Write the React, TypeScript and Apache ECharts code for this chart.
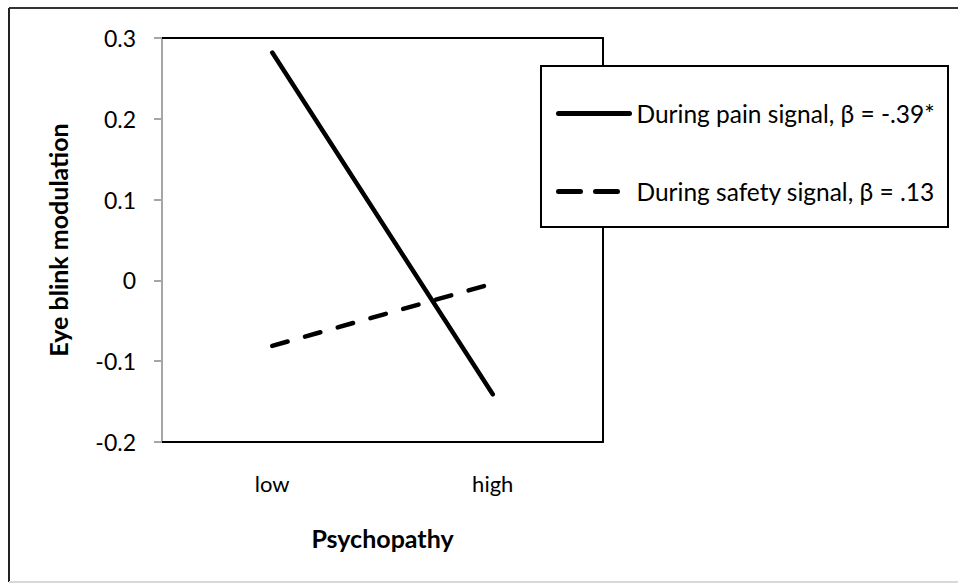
import React, { useEffect, useRef } from "react";
import * as echarts from "echarts";

const categories = ["low", "high"];
const painValues = [0.282, -0.141];
const safetyValues = [-0.081, -0.004];
const seriesNames = ["During pain signal, β = -.39*", "During safety signal, β = .13"];
const yTicks = { min: -0.2, max: 0.3, interval: 0.1 };

const FONT = "Lato";

export default function App() {
  const ref = useRef<HTMLDivElement>(null);
  useEffect(() => {
    if (!ref.current) return;
    const chart = echarts.init(ref.current, undefined, { renderer: "svg" });
    chart.setOption({
      animation: false,
      backgroundColor: "#ffffff",
      textStyle: { fontFamily: FONT, color: "#000" },
      grid: { left: 162, right: 355, top: 38, bottom: 142 },
      graphic: [
        { type: "line", shape: { x1: 9, y1: 8, x2: 958, y2: 8 }, style: { stroke: "#333", lineWidth: 2 } },
        { type: "line", shape: { x1: 9, y1: 8, x2: 9, y2: 582 }, style: { stroke: "#222", lineWidth: 2 } },
        { type: "line", shape: { x1: 9, y1: 582, x2: 958, y2: 582 }, style: { stroke: "#d8d8d8", lineWidth: 2 } },
        {
          type: "rect",
          shape: { x: 541, y: 66, width: 407, height: 161 },
          style: { fill: "#fff", stroke: "#000", lineWidth: 2 },
          z: 10,
        },
      ],
      legend: {
        orient: "vertical",
        left: 541,
        top: 66,
        padding: [35, 10, 25, 15],
        itemWidth: 71,
        itemHeight: 24,
        itemGap: 53,
        z: 20,
        itemStyle: { opacity: 0 },
        lineStyle: { width: 5, cap: "round", color: "#000" },
        textStyle: { fontFamily: FONT, fontSize: 24.5, color: "#000", padding: [0, 0, 0, 2] },
        data: [
          { name: seriesNames[0], lineStyle: { width: 5, type: "solid", cap: "round", color: "#000" } },
          { name: seriesNames[1], lineStyle: { width: 5, type: [22, 15], cap: "round", color: "#000" } },
        ],
        selectedMode: false,
      },
      xAxis: [
        {
          type: "category",
          data: categories,
          boundaryGap: true,
          axisLine: { show: true, onZero: false, lineStyle: { color: "#000", width: 2 } },
          axisTick: { show: false },
          axisLabel: { fontFamily: FONT, fontSize: 22, color: "#000", margin: 30 },
          name: "Psychopathy",
          nameLocation: "middle",
          nameGap: 83,
          nameTextStyle: { fontFamily: FONT, fontSize: 25, fontWeight: "bold", color: "#000" },
          splitLine: { show: false },
        },
        {
          type: "category",
          data: categories,
          position: "top",
          axisLine: { show: true, onZero: false, lineStyle: { color: "#000", width: 2 } },
          axisTick: { show: false },
          axisLabel: { show: false },
        },
      ],
      yAxis: [
        {
          type: "value",
          min: yTicks.min,
          max: yTicks.max,
          interval: yTicks.interval,
          axisLine: { show: true, onZero: false, lineStyle: { color: "#a6a6a6", width: 2 } },
          axisTick: { show: true, inside: false, length: 8, lineStyle: { color: "#a6a6a6", width: 2 } },
          axisLabel: {
            fontFamily: FONT,
            fontSize: 23,
            color: "#000",
            margin: 26,
            formatter: (v: number) => {
              const r = Math.round(v * 10) / 10;
              return r === 0 ? "0" : r.toFixed(1);
            },
          },
          splitLine: { show: false },
          name: "Eye blink modulation",
          nameLocation: "middle",
          nameGap: 92,
          nameRotate: 90,
          nameTextStyle: { fontFamily: FONT, fontSize: 25, fontWeight: "bold", color: "#000" },
        },
        {
          type: "value",
          position: "right",
          min: yTicks.min,
          max: yTicks.max,
          interval: yTicks.interval,
          axisLine: { show: true, onZero: false, lineStyle: { color: "#000", width: 2 } },
          axisTick: { show: false },
          axisLabel: { show: false },
          splitLine: { show: false },
        },
      ],
      series: [
        {
          name: seriesNames[0],
          type: "line",
          data: painValues,
          symbol: "none",
          lineStyle: { color: "#000", width: 4.5, cap: "round" },
          itemStyle: { color: "#000" },
          z: 3,
        },
        {
          name: seriesNames[1],
          type: "line",
          data: safetyValues,
          symbol: "none",
          lineStyle: { color: "#000", width: 4.5, type: [16, 18], cap: "round" },
          itemStyle: { color: "#000" },
          z: 3,
        },
      ],
    });
    return () => chart.dispose();
  }, []);
  return <div ref={ref} style={{ width: 958, height: 584, position: "absolute", left: 0, top: 0 }} />;
}
